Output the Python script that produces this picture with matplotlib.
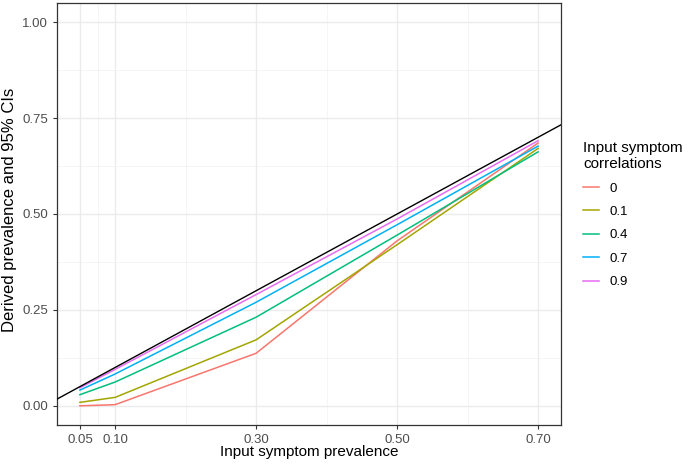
import matplotlib.pyplot as plt
from matplotlib.lines import Line2D

plt.rcParams['font.family'] = ['Liberation Sans', 'DejaVu Sans']

# input symptom prevalence
prevalence = [0.05, 0.10, 0.30, 0.50, 0.70]
correlations = ['0', '0.1', '0.4', '0.7', '0.9']
derived = {
    '0':   [0.000, 0.003, 0.137, 0.430, 0.685],
    '0.1': [0.009, 0.022, 0.172, 0.420, 0.671],
    '0.4': [0.029, 0.062, 0.231, 0.445, 0.662],
    '0.7': [0.041, 0.083, 0.270, 0.472, 0.677],
    '0.9': [0.047, 0.095, 0.290, 0.487, 0.691],
}
colors = ['#F8766D', '#A3A500', '#00BF7D', '#00B0F6', '#E76BF3']
x_breaks = [0.05, 0.10, 0.30, 0.50, 0.70]
y_breaks = [0.00, 0.25, 0.50, 0.75, 1.00]

fig = plt.figure(figsize=(6.93, 4.68), dpi=100)
ax = fig.add_axes([57 / 693, 43 / 468, 504 / 693, 422 / 468])

xlim = (0.05 - 0.0325, 0.70 + 0.0325)
ylim = (-0.05, 1.05)

# grid lines
for v in [0.075, 0.2, 0.4, 0.6]:
    ax.axvline(v, color='#F2F2F2', lw=0.5, zorder=0)
for v in [0.125, 0.375, 0.625, 0.875]:
    ax.axhline(v, color='#F2F2F2', lw=0.5, zorder=0)
for v in x_breaks:
    ax.axvline(v, color='#EBEBEB', lw=1.0, zorder=0)
for v in y_breaks:
    ax.axhline(v, color='#EBEBEB', lw=1.0, zorder=0)

for c, col in zip(correlations, colors):
    ax.plot(prevalence, derived[c], color=col, lw=1.1, zorder=2)

# identity line
ax.plot(xlim, xlim, color='black', lw=1.0, zorder=3)

ax.set_xlim(xlim)
ax.set_ylim(ylim)
ax.set_xticks(x_breaks)
ax.set_xticklabels(['0.05', '0.10', '0.30', '0.50', '0.70'])
ax.set_yticks(y_breaks)
ax.set_yticklabels(['0.00', '0.25', '0.50', '0.75', '1.00'])
ax.tick_params(colors='#333333', labelcolor='#4D4D4D', labelsize=9.5, length=3, width=0.8)
for s in ax.spines.values():
    s.set_color('#333333')
    s.set_linewidth(0.9)
ax.set_xlabel('Input symptom prevalence', fontsize=11, labelpad=-1)
ax.set_ylabel('Derived prevalence and 95% CIs', fontsize=12, va='center')
ax.yaxis.set_label_coords(-47 / 504, 0.51)

handles = [Line2D([], [], color=col, lw=1.1) for col in colors]
leg = fig.legend(handles, correlations, title='Input symptom\ncorrelations',
                 loc='upper left', bbox_to_anchor=(571 / 693, 1 - 129 / 468),
                 frameon=False, fontsize=9.5, title_fontsize=11,
                 handlelength=1.2, handletextpad=0.8, labelspacing=0.85)
leg._legend_box.align = 'left'

fig.savefig('out.png', dpi=100)
